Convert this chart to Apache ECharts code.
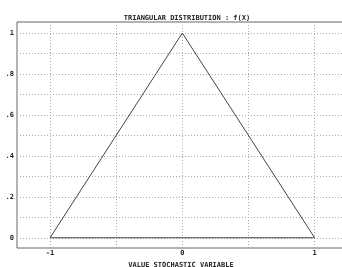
<!DOCTYPE html>
<html lang="en">
<head>
<meta charset="UTF-8" />
<title>Triangular distribution</title>
<style>
  html, body { margin: 0; padding: 0; background: #fff; }
  #main { width: 342px; height: 267px; }
</style>
</head>
<body>
<div id="main"></div>
<script src="https://cdn.jsdelivr.net/npm/echarts@6/dist/echarts.min.js"></script>
<script type="text/javascript">
// data: triangle f(x) on [-1, 1], closed along the base
var xValues = [-1, 0, 1, -1];
var yValues = [0, 1, 0, 0];
// grid lines and tick labels
var xGridLines = [-1, -0.5, 0, 0.5, 1];
var yGridLines = [0, 0.1, 0.2, 0.3, 0.4, 0.5, 0.6, 0.7, 0.8, 0.9, 1];
var xTickLabels = [-1, 0, 1];
var yTickLabels = [0, 0.2, 0.4, 0.6, 0.8, 1];

var myChart = echarts.init(document.getElementById('main'));

var font = '"DejaVu Sans Mono", monospace';
var gridStyle = { color: '#aaa', width: 1, type: [1, 2] };

var points = [];
for (var i = 0; i < xValues.length; i++) {
    points.push([xValues[i], yValues[i]]);
}

var markData = [];
xGridLines.forEach(function (v) { markData.push({ xAxis: v }); });
yGridLines.forEach(function (v) { markData.push({ yAxis: v }); });

var option = {
    animation: false,
    title: {
        text: 'TRIANGULAR DISTRIBUTION : f(X)',
        left: 182,
        top: 10,
        textAlign: 'center',
        textStyle: { fontFamily: font, fontSize: 7, fontWeight: 'bold', color: '#222' }
    },
    grid: {
        left: 17, top: 22, right: -3, bottom: 19,
        outerBoundsMode: 'none',
        containLabel: false,
        show: true, borderColor: '#666', borderWidth: 1
    },
    xAxis: {
        type: 'value',
        min: -1.25, max: 1.23,
        name: 'VALUE STOCHASTIC VARIABLE',
        nameLocation: 'middle',
        nameGap: 9,
        nameTextStyle: { fontFamily: font, fontSize: 7, fontWeight: 'bold', color: '#222' },
        axisLine: { show: false },
        axisTick: { show: false },
        splitLine: { show: false },
        axisLabel: {
            customValues: xTickLabels,
            margin: 2,
            fontFamily: font, fontSize: 7, fontWeight: 'bold', color: '#222'
        }
    },
    yAxis: {
        type: 'value',
        min: -0.05, max: 1.054,
        axisLine: { show: false },
        axisTick: { show: false },
        splitLine: { show: false },
        axisLabel: {
            customValues: yTickLabels,
            margin: 3,
            fontFamily: font, fontSize: 7, fontWeight: 'bold', color: '#222',
            formatter: function (v) {
                var s = String(Math.round(v * 10) / 10);
                return s.replace(/^0\./, '.');
            }
        }
    },
    series: [{
        type: 'line',
        data: points,
        symbol: 'none',
        lineStyle: { color: '#444', width: 1 },
        z: 3,
        markLine: {
            silent: true,
            symbol: 'none',
            label: { show: false },
            lineStyle: gridStyle,
            z: 1,
            data: markData
        }
    }]
};

myChart.setOption(option);
</script>
</body>
</html>
